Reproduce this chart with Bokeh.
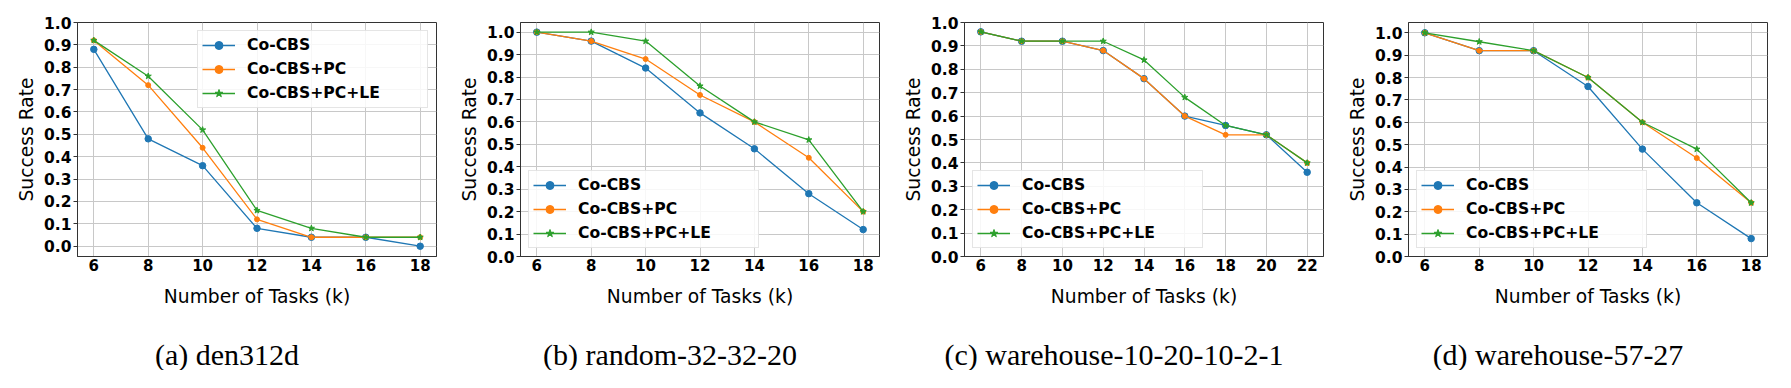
from bokeh.plotting import figure
from bokeh.models import Legend, LegendItem, Label, FixedTicker, PrintfTickFormatter, Range1d
from bokeh.layouts import row, column
from bokeh.embed import file_html
from bokeh.resources import INLINE

# ---------------- data ----------------
series_names = ["Co-CBS", "Co-CBS+PC", "Co-CBS+PC+LE"]
y_ticks = [0.0, 0.1, 0.2, 0.3, 0.4, 0.5, 0.6, 0.7, 0.8, 0.9, 1.0]

k_den = [6, 8, 10, 12, 14, 16, 18]
den_cocbs = [0.88, 0.48, 0.36, 0.08, 0.04, 0.04, 0.00]
den_pc = [0.92, 0.72, 0.44, 0.12, 0.04, 0.04, 0.04]
den_le = [0.92, 0.76, 0.52, 0.16, 0.08, 0.04, 0.04]

k_rand = [6, 8, 10, 12, 14, 16, 18]
rand_cocbs = [1.00, 0.96, 0.84, 0.64, 0.48, 0.28, 0.12]
rand_pc = [1.00, 0.96, 0.88, 0.72, 0.60, 0.44, 0.20]
rand_le = [1.00, 1.00, 0.96, 0.76, 0.60, 0.52, 0.20]

k_wh1 = [6, 8, 10, 12, 14, 16, 18, 20, 22]
wh1_cocbs = [0.96, 0.92, 0.92, 0.88, 0.76, 0.60, 0.56, 0.52, 0.36]
wh1_pc = [0.96, 0.92, 0.92, 0.88, 0.76, 0.60, 0.52, 0.52, 0.40]
wh1_le = [0.96, 0.92, 0.92, 0.92, 0.84, 0.68, 0.56, 0.52, 0.40]

k_wh2 = [6, 8, 10, 12, 14, 16, 18]
wh2_cocbs = [1.00, 0.92, 0.92, 0.76, 0.48, 0.24, 0.08]
wh2_pc = [1.00, 0.92, 0.92, 0.80, 0.60, 0.44, 0.24]
wh2_le = [1.00, 0.96, 0.92, 0.80, 0.60, 0.48, 0.24]

x_label = "Number of Tasks (k)"
y_label = "Success Rate"
captions = ["(a) den312d", "(b) random-32-32-20",
            "(c) warehouse-10-20-10-2-1", "(d) warehouse-57-27"]

# ---------------- style ----------------
COLORS = ["#1f77b4", "#ff7f0e", "#2ca02c"]
MARKERS = ["circle", "circle", "star"]
MSIZES = [6.5, 5, 6.5]
FONT = "DejaVu Sans"
FRAME_W, FRAME_H = 359, 234
BORDER_L, BORDER_T, BORDER_B = 77, 22, 25
RIGHT_BORDERS = [7, 8, 8, 7]
PLOT_H = BORDER_T + FRAME_H + BORDER_B
LAB_H = 370 - PLOT_H
XLAB_FS = 18.7


def make_panel(ks, ys_list, xr, yr, legend_loc, right_border):
    W = BORDER_L + FRAME_W + right_border
    p = figure(width=W, height=PLOT_H,
               min_border_left=BORDER_L, min_border_right=right_border,
               min_border_top=BORDER_T, min_border_bottom=BORDER_B,
               x_range=Range1d(*xr), y_range=Range1d(*yr),
               output_backend="svg", toolbar_location=None,
               background_fill_color="white", border_fill_color="white")
    p.outline_line_color = "#333333"
    p.outline_line_width = 1

    xt = FixedTicker(ticks=ks)
    yt = FixedTicker(ticks=y_ticks)
    p.xaxis.ticker = xt
    p.yaxis.ticker = yt
    p.xgrid.ticker = xt
    p.ygrid.ticker = yt
    p.yaxis.formatter = PrintfTickFormatter(format="%.1f")
    for ax in (p.xaxis, p.yaxis):
        ax.axis_line_color = "#333333"
        ax.major_tick_line_color = "#333333"
        ax.major_tick_in = 0
        ax.minor_tick_out = 0
        ax.minor_tick_in = 0
        ax.major_label_text_font = FONT
        ax.major_label_text_font_style = "bold"
        ax.major_label_text_color = "black"
    p.xaxis.axis_label = None
    p.xaxis.major_tick_out = 0
    p.xaxis.major_label_standoff = 2
    p.xaxis.major_label_text_font_size = "15px"
    p.yaxis.major_tick_out = 4
    p.yaxis.major_label_standoff = 2
    p.yaxis.major_label_text_font_size = "15.5px"
    p.yaxis.axis_label = y_label
    p.yaxis.axis_label_text_font = FONT
    p.yaxis.axis_label_text_font_style = "normal"
    p.yaxis.axis_label_text_font_size = f"{XLAB_FS}px"
    p.yaxis.axis_label_text_color = "black"
    p.yaxis.axis_label_standoff = 4

    for g in (p.xgrid, p.ygrid):
        g.grid_line_color = "#c8c8c8"
        g.grid_line_width = 1

    items = []
    for name, ys, c, m, s in zip(series_names, ys_list, COLORS, MARKERS, MSIZES):
        lr = p.line(ks, ys, line_color=c, line_width=1.3)
        sr = p.scatter(ks, ys, marker=m, size=s, fill_color=c, line_color=c)
        items.append(LegendItem(label=name, renderers=[lr, sr]))

    leg = Legend(items=items, location=legend_loc, margin=8, padding=4,
                 spacing=4, glyph_width=33, glyph_height=20,
                 label_height=20, label_width=176, label_standoff=12,
                 label_text_font=FONT, label_text_font_style="bold",
                 label_text_font_size="15.6px", label_text_color="black",
                 border_line_color="#cccccc", border_line_width=1,
                 background_fill_color="white", background_fill_alpha=0.85)
    p.add_layout(leg)
    return p


panels = [
    make_panel(k_den, [den_cocbs, den_pc, den_le],
               (5.4, 18.6), (-0.046, 1.0), "top_right", RIGHT_BORDERS[0]),
    make_panel(k_rand, [rand_cocbs, rand_pc, rand_le],
               (5.4, 18.6), (0.0, 1.043), "bottom_left", RIGHT_BORDERS[1]),
    make_panel(k_wh1, [wh1_cocbs, wh1_pc, wh1_le],
               (5.2, 22.8), (0.0, 1.0), "bottom_left", RIGHT_BORDERS[2]),
    make_panel(k_wh2, [wh2_cocbs, wh2_pc, wh2_le],
               (5.4, 18.6), (0.0, 1.046), "bottom_left", RIGHT_BORDERS[3]),
]

# ---------- text strip under all panels: x-axis titles and captions ----------
widths = [BORDER_L + FRAME_W + rb for rb in RIGHT_BORDERS]
TOTAL_W = sum(widths)
q = figure(width=TOTAL_W, height=LAB_H, min_border=0,
           x_range=Range1d(0, TOTAL_W), y_range=Range1d(0, LAB_H),
           x_axis_type=None, y_axis_type=None,
           output_backend="svg", toolbar_location=None,
           background_fill_color="white", border_fill_color="white")
q.outline_line_color = None
q.grid.visible = False

y_xlab = LAB_H - 15       # baseline of the axis title
y_cap = LAB_H - 73        # baseline of the caption
offset = 0
for i, cap in enumerate(captions):
    cx = offset + BORDER_L + FRAME_W / 2
    q.add_layout(Label(x=cx, y=y_xlab, text=x_label, text_font=FONT,
                       text_font_style="normal", text_font_size=f"{XLAB_FS}px",
                       text_color="black", text_align="center",
                       text_baseline="alphabetic"))
    q.add_layout(Label(x=cx - 30, y=y_cap, text=cap,
                       text_font="Liberation Serif", text_font_size="30px",
                       text_color="black", text_align="center",
                       text_baseline="alphabetic"))
    offset += widths[i]

layout = column(row(*panels, spacing=0), q, spacing=0)
open("out.html", "w").write(file_html(layout, INLINE))
